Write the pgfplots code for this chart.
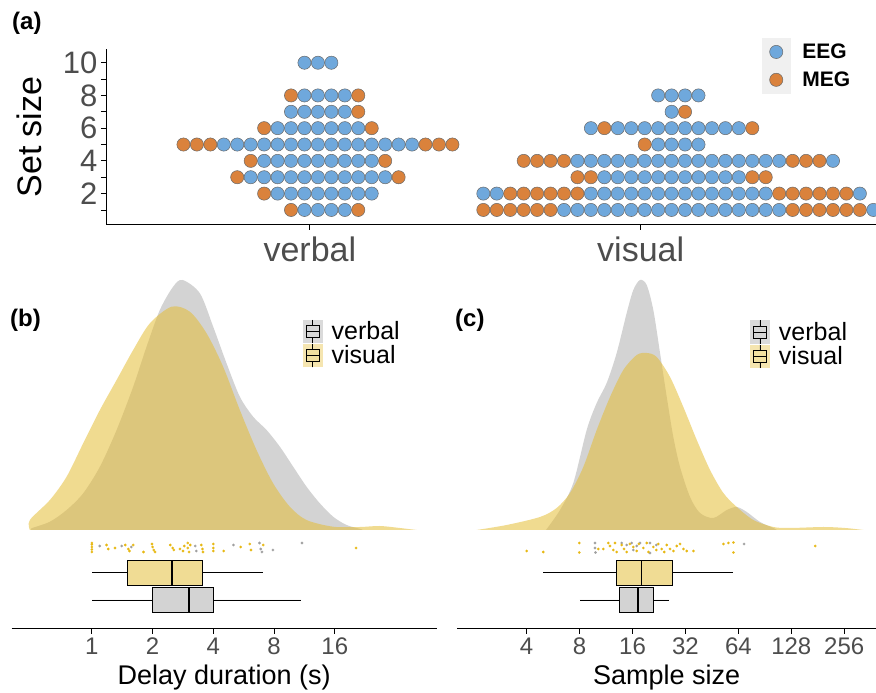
\documentclass[border=0pt]{standalone}
\usepackage{fontspec}
\setmainfont{Liberation Sans}
\usepackage{pgfplots}
\pgfplotsset{compat=1.18}
\usepgfplotslibrary{statistics}
\definecolor{eegblue}{RGB}{111,168,220}
\definecolor{megorange}{RGB}{218,130,60}
\definecolor{dotedge}{RGB}{105,105,105}
\definecolor{keybg}{RGB}{240,240,240}
\definecolor{tickgray}{RGB}{77,77,77}
\definecolor{densgray}{RGB}{175,175,175}
\definecolor{densyellow}{RGB}{228,189,53}
\definecolor{ptyellow}{RGB}{231,184,20}
\definecolor{ptgray}{RGB}{160,160,160}
\definecolor{boxgray}{RGB}{211,211,211}
\definecolor{boxyellow}{RGB}{240,220,148}
\definecolor{keygray}{RGB}{188,188,188}
\definecolor{keyyellow}{RGB}{236,208,112}
\pgfplotsset{
  boxkey/.style 2 args={legend image code/.code={%
    \fill[#1] (0pt,-11.75pt) rectangle (20pt,11.75pt);
    \draw[black,line width=0.7pt] (10pt,-11.75pt)--(10pt,-6pt) (10pt,6pt)--(10pt,11.75pt);
    \draw[black,line width=0.7pt,fill=#2] (3.5pt,-6pt) rectangle (16.5pt,6pt);
    \draw[black,line width=0.7pt] (3.5pt,0pt)--(16.5pt,0pt);}},
  dotkey/.style={legend image code/.code={%
    \fill[keybg] (0pt,-13.75pt) rectangle (28pt,13.75pt);
    \draw[dotedge,fill=#1,line width=0.5pt] (14pt,0pt) circle (6.6pt);}},
  jit/.style={only marks, mark=*, mark size=1.3pt, color=#1, mark options={solid, draw=#1, fill=#1, line width=0.1pt}},
  lowpanel/.style={
    scale only axis, height=360pt,
    ymin=-99, ymax=261,
    axis x line*=bottom, axis y line=none,
    axis line style={line width=1pt,-},
    tick align=outside, major tick length=5pt,
    tick style={line width=0.8pt,black},
    ytick=\empty,
    xticklabel style={font=\fontsize{24}{24}\selectfont, text=tickgray, inner sep=0pt, yshift=-4pt},
    xlabel style={font=\fontsize{27}{27}\selectfont, at={(axis description cs:0.5,-0.1)}, anchor=north, inner sep=0pt},
    boxplot/draw direction=x,
    boxplot/every median/.style={line width=1.8pt},
    legend style={anchor=north west, draw=none, fill=none, inner sep=0pt, outer sep=0pt,
      row sep=0pt, column sep=7pt, font=\fontsize{25}{25}\selectfont},
    legend cell align=left,
  },
}
\begin{document}
\begin{tikzpicture}
\useasboundingbox (0pt,0pt) rectangle (876pt,693pt);
% ---------------- panel (a)
\begin{axis}[
  at={(106pt,468pt)}, anchor=south west,
  scale only axis, width=770pt, height=176pt,
  xmin=-15.76, xmax=41.5, ymin=0.08, ymax=10.84,
  axis x line*=bottom, axis y line*=left,
  axis line style={line width=1pt,-},
  tick align=outside, major tick length=5pt,
  tick style={line width=0.8pt,black},
  xtick={-0.6,24}, xticklabels={verbal,visual},
  ytick={1,2,3,4,5,6,7,8,9,10}, yticklabels={,2,,4,,6,,8,,10},
  xticklabel style={font=\fontsize{34}{34}\selectfont, text=tickgray, inner sep=0pt, yshift=-6.7pt},
  yticklabel style={font=\fontsize{31}{31}\selectfont, text=tickgray, inner sep=0pt, xshift=-3.5pt},
  ylabel={Set size},
  ylabel style={font=\fontsize{34}{34}\selectfont, at={(axis description cs:-0.1156,0.5)}, anchor=north, inner sep=0pt},
  legend style={at={(axis description cs:0.852,1.0625)}, anchor=north west, draw=none, fill=none,
    inner sep=0pt, outer sep=0pt, row sep=0pt, column sep=10pt, font=\bfseries\fontsize{21}{21}\selectfont},
  legend cell align=left,
]
\addplot[only marks, mark=*, mark size=6.6pt, mark options={draw=dotedge, fill=eegblue, line width=0.5pt}, dotkey=eegblue]
coordinates {
(-1,10)(0,10)(1,10)
(-1,8)(0,8)(1,8)(2,8)
(-2,7)(-1,7)(0,7)(1,7)(2,7)
(-3,6)(-2,6)(-1,6)(0,6)(1,6)(2,6)(3,6)
(-7,5)(-6,5)(-5,5)(-4,5)(-3,5)(-2,5)(-1,5)(0,5)(1,5)(2,5)(3,5)(4,5)(5,5)(6,5)(7,5)
(-4,4)(-3,4)(-2,4)(-1,4)(0,4)(1,4)(2,4)(3,4)(4,4)
(-5,3)(-4,3)(-3,3)(-2,3)(-1,3)(0,3)(1,3)(2,3)(3,3)(4,3)(5,3)
(-3,2)(-2,2)(-1,2)(0,2)(1,2)(2,2)(3,2)(4,2)
(-1,1)(0,1)(1,1)(2,1)
(25.3,8)(26.3,8)(27.3,8)(28.3,8)
(26.3,7)
(20.3,6)(22.3,6)(23.3,6)(24.3,6)(25.3,6)(26.3,6)(27.3,6)(28.3,6)(29.3,6)(30.3,6)(31.3,6)
(25.3,5)(26.3,5)(27.3,5)(28.3,5)
(19.3,4)(20.3,4)(21.3,4)(22.3,4)(23.3,4)(24.3,4)(25.3,4)(26.3,4)(27.3,4)(28.3,4)(29.3,4)(30.3,4)(31.3,4)(32.3,4)(33.3,4)(34.3,4)(38.3,4)
(21.3,3)(22.3,3)(23.3,3)(24.3,3)(25.3,3)(26.3,3)(27.3,3)(28.3,3)(29.3,3)(30.3,3)(31.3,3)
(12.3,2)(13.3,2)(20.3,2)(21.3,2)(22.3,2)(23.3,2)(24.3,2)(25.3,2)(26.3,2)(27.3,2)(28.3,2)(29.3,2)(30.3,2)(31.3,2)(32.3,2)(33.3,2)(40.3,2)
(18.3,1)(19.3,1)(20.3,1)(21.3,1)(22.3,1)(23.3,1)(24.3,1)(25.3,1)(26.3,1)(27.3,1)(28.3,1)(29.3,1)(30.3,1)(31.3,1)(32.3,1)(33.3,1)(34.3,1)(41.3,1)
};
\addlegendentry{EEG}
\addplot[only marks, mark=*, mark size=6.6pt, mark options={draw=dotedge, fill=megorange, line width=0.5pt}, dotkey=megorange]
coordinates {
(-2,8)(3,8)(3,7)(-4,6)(4,6)(-10,5)(-9,5)(-8,5)(8,5)(9,5)(10,5)(-5,4)(5,4)(-6,3)(6,3)(-4,2)(-2,1)(3,1)
(27.3,7)(21.3,6)(32.3,6)(24.3,5)
(15.3,4)(16.3,4)(17.3,4)(18.3,4)(35.3,4)(36.3,4)(37.3,4)
(19.3,3)(20.3,3)(32.3,3)(33.3,3)
(14.3,2)(15.3,2)(16.3,2)(17.3,2)(18.3,2)(19.3,2)(34.3,2)(35.3,2)(36.3,2)(37.3,2)(38.3,2)(39.3,2)
(12.3,1)(13.3,1)(14.3,1)(15.3,1)(16.3,1)(17.3,1)(35.3,1)(36.3,1)(37.3,1)(38.3,1)(39.3,1)(40.3,1)
};
\addlegendentry{MEG}
\end{axis}
% ---------------- panel (b)
\begin{axis}[lowpanel,
  at={(11.7pt,64pt)}, anchor=south west, width=425pt,
  xmin=-1.32, xmax=5.677,
  xtick={0,1,2,3,4}, xticklabels={1,2,4,8,16},
  xlabel={Delay duration (s)},
  legend style={at={(axis description cs:0.6847,0.8603)}},
]
\addplot[draw=none, fill=densgray, fill opacity=0.55, smooth, boxkey={keygray}{boxgray}] coordinates {
(-0.993,0)(-0.993,1.7)(-0.691,8.3)(-0.416,20)(-0.143,36.7)(0.132,63.3)(0.407,100)(0.680,143.3)(0.900,183.3)
(1.119,220)(1.338,243.3)(1.493,250)(1.778,236.7)(1.997,203.3)(2.217,166.7)(2.436,133.3)(2.655,113.3)
(2.876,100)(3.095,83.3)(3.314,63.3)(3.534,43.3)(3.753,26.7)(3.972,13.3)(4.193,5)(4.440,0.7)(4.45,0)
} -- cycle;
\addlegendentry{verbal}
\addplot[draw=none, fill=densyellow, fill opacity=0.55, smooth, boxkey={keyyellow}{boxyellow}] coordinates {
(-1.021,0)(-1.021,10)(-0.691,30)(-0.416,53.3)(-0.143,86.7)(0.132,120)(0.407,150)(0.680,180)(0.955,206.7)
(1.312,223.3)(1.613,218.3)(1.888,196.7)(2.161,163.3)(2.436,120)(2.711,80)(2.984,46.7)(3.259,23.3)
(3.534,10)(3.972,3.3)(4.412,3)(4.741,4)(5.070,2)(5.345,0)
} -- cycle;
\addlegendentry{visual}
\addplot[jit=ptgray] coordinates {
(0.13,-16)(0.49,-16)(0.65,-17)(1.72,-21)(1.70,-16)(2.33,-15)(2.76,-13)(2.78,-19)(2.80,-22)(2.98,-20)(3.46,-13)
};
\addplot[jit=ptyellow] coordinates {
(0,-22)(0,-19.5)(0,-17)(0,-14.5)(0,-13)
(0.24,-15)(0.27,-19)(0.38,-18)(0.55,-15)(0.60,-19)(0.62,-21)(0.68,-15)(0.85,-22)
(0.99,-14)(1.0,-17)(1.02,-20)(1.04,-22)(1.29,-15)(1.33,-18)(1.35,-20)
(1.45,-19)(1.50,-21)(1.52,-16)(1.58,-13)(1.58,-18)(1.60,-22)(1.62,-15)
(1.80,-15)(1.82,-19)(1.83,-22)(2.0,-14)(2.0,-18)(2.0,-21)(2.17,-21)
(2.45,-17)(2.60,-14)(2.62,-20)(2.82,-15)(4.35,-18)
};
\addplot[boxplot prepared={draw position=-42.5, lower whisker=0, lower quartile=0.587, median=1.32,
  upper quartile=1.816, upper whisker=2.81, box extend=25, whisker extend=0},
  fill=boxyellow, draw=black, line width=0.9pt] coordinates {};
\addplot[boxplot prepared={draw position=-70, lower whisker=0, lower quartile=1, median=1.597,
  upper quartile=2, upper whisker=3.445, box extend=25, whisker extend=0},
  fill=boxgray, draw=black, line width=0.9pt] coordinates {};
\end{axis}
% ---------------- panel (c)
\begin{axis}[lowpanel,
  at={(457.3pt,64pt)}, anchor=south west, width=418.7pt,
  xmin=0.69, xmax=8.6,
  xtick={2,3,4,5,6,7,8}, xticklabels={4,8,16,32,64,128,256},
  xlabel={Sample size},
  legend style={at={(axis description cs:0.699,0.858)}},
]
\addplot[draw=none, fill=densgray, fill opacity=0.55, smooth, boxkey={keygray}{boxgray}] coordinates {
(2.365,0)(2.630,20)(2.881,47)(3.134,100)(3.323,127)(3.512,147)(3.701,177)(3.890,217)(4.015,240)(4.142,250)
(4.268,245)(4.393,220)(4.520,177)(4.647,133)(4.771,93)(4.898,63)(5.087,33)(5.276,17)(5.527,12)
(5.781,20)(5.970,23)(6.159,18)(6.410,8)(6.662,2)(6.726,0)
} -- cycle;
\addlegendentry{verbal}
\addplot[draw=none, fill=densyellow, fill opacity=0.55, smooth, boxkey={keyyellow}{boxyellow}] coordinates {
(1.055,0)(1.622,5)(2.251,13)(2.567,22)(2.819,37)(3.070,63)(3.323,100)(3.575,133)(3.826,160)(4.079,175)
(4.268,177)(4.457,173)(4.709,153)(4.960,123)(5.214,90)(5.465,60)(5.716,37)(5.970,23)(6.284,10)
(6.662,3)(6.977,2)(7.607,3)(8.017,2)(8.363,0)
} -- cycle;
\addlegendentry{visual}
\addplot[jit=ptgray] coordinates {
(3.291,-13)(3.291,-18)(3.30,-22.5)(3.795,-13)(3.89,-15)(3.984,-13)(4.016,-20)(4.079,-16)(4.142,-13)
(4.331,-23)(4.331,-13)(4.45,-15)(6.108,-14)
};
\addplot[jit=ptyellow] coordinates {
(2.0,-21)(2.314,-22)(2.995,-13)(2.995,-22.5)(3.354,-19)(3.449,-19)(3.543,-13)(3.575,-16)(3.638,-20)
(3.669,-13)(3.701,-22)(3.795,-15)(3.84,-19)(3.890,-22)(3.95,-14)(4.016,-17)(4.079,-21)(4.12,-14)
(4.205,-18)(4.268,-13)(4.30,-22)(4.394,-17)(4.45,-20)(4.488,-14)(4.551,-19)(4.60,-22)(4.646,-15)
(4.709,-19)(4.772,-21)(4.835,-16)(4.898,-14)(4.961,-19)(5.024,-21)(5.15,-21)(5.717,-14)(5.811,-13)
(5.906,-12.5)(5.906,-22.5)(7.45,-16)
};
\addplot[boxplot prepared={draw position=-42.5, lower whisker=2.314, lower quartile=3.688, median=4.17,
  upper quartile=4.752, upper whisker=5.906, box extend=25, whisker extend=0},
  fill=boxyellow, draw=black, line width=0.9pt] coordinates {};
\addplot[boxplot prepared={draw position=-70, lower whisker=3, lower quartile=3.75, median=4.098,
  upper quartile=4.393, upper whisker=4.698, box extend=25, whisker extend=0},
  fill=boxgray, draw=black, line width=0.9pt] coordinates {};
\end{axis}
% panel letters
\node[anchor=base west, inner sep=0pt, font=\bfseries\fontsize{24}{24}\selectfont] at (12pt,663pt) {(a)};
\node[anchor=base west, inner sep=0pt, font=\bfseries\fontsize{24}{24}\selectfont] at (10pt,366pt) {(b)};
\node[anchor=base west, inner sep=0pt, font=\bfseries\fontsize{24}{24}\selectfont] at (455pt,366pt) {(c)};
\end{tikzpicture}
\end{document}
